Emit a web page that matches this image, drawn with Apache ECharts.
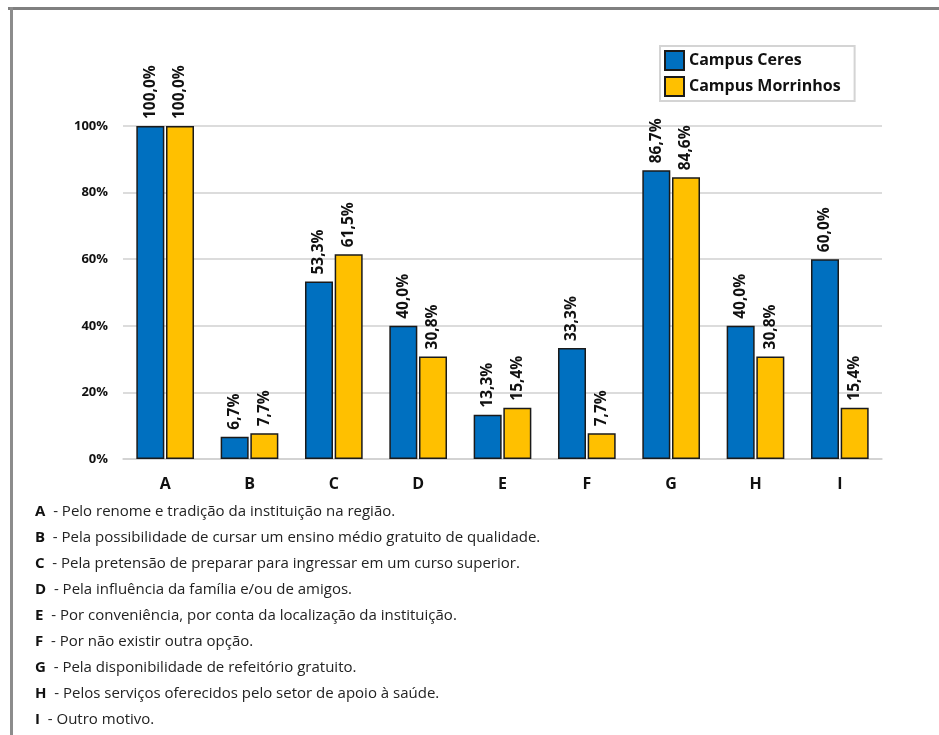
<!DOCTYPE html>
<html>
<head>
<meta charset="utf-8">
<script src="https://cdn.jsdelivr.net/npm/echarts@6/dist/echarts.min.js"></script>
<style>
  html, body { margin: 0; padding: 0; background: #fff; }
  #chart { width: 939px; height: 735px; }
</style>
</head>
<body>
<div id="chart"></div>
<script>
// Motivos de escolha da instituição, por campus (%)
const categories = ['A', 'B', 'C', 'D', 'E', 'F', 'G', 'H', 'I'];
const ceres = [100, 6.7, 53.3, 40, 13.3, 33.3, 86.7, 40, 60];
const morrinhos = [100, 7.7, 61.5, 30.8, 15.4, 7.7, 84.6, 30.8, 15.4];
const seriesNames = ['Campus Ceres', 'Campus Morrinhos'];
const yTicks = [0, 20, 40, 60, 80, 100];

const legendKey = [
  ['A', 'Pelo renome e tradição da instituição na região.'],
  ['B', 'Pela possibilidade de cursar um ensino médio gratuito de qualidade.'],
  ['C', 'Pela pretensão de preparar para ingressar em um curso superior.'],
  ['D', 'Pela influência da família e/ou de amigos.'],
  ['E', 'Por conveniência, por conta da localização da instituição.'],
  ['F', 'Por não existir outra opção.'],
  ['G', 'Pela disponibilidade de refeitório gratuito.'],
  ['H', 'Pelos serviços oferecidos pelo setor de apoio à saúde.'],
  ['I', 'Outro motivo.']
];

const FONT = '"Open Sans", "Noto Sans", sans-serif';
const chart = echarts.init(document.getElementById('chart'));

const fmt = v => v.toFixed(1).replace('.', ',') + '%';

const barLabel = {
  show: true,
  position: 'top',
  rotate: 90,
  align: 'left',
  verticalAlign: 'middle',
  distance: 7,
  fontFamily: FONT,
  fontWeight: 'bold',
  fontSize: 15.5,
  color: '#111',
  formatter: p => fmt(p.value)
};

const keyGraphics = legendKey.map((row, i) => ({
  type: 'text',
  left: 35,
  top: 504 + i * 26,
  style: {
    text: '{b|' + row[0] + '}  - ' + row[1],
    fontFamily: FONT,
    fontSize: 15,
    fill: '#222',
    rich: {
      b: { fontFamily: FONT, fontSize: 15, fontWeight: 'bold', fill: '#111' }
    }
  }
}));

chart.setOption({
  animation: false,
  backgroundColor: '#fff',
  grid: { left: 123, right: 57, top: 126, height: 333, containLabel: false },
  legend: {
    data: seriesNames,
    orient: 'vertical',
    left: 660,
    top: 46,
    padding: [4, 14, 4, 4],
    itemGap: 5,
    itemWidth: 19,
    itemHeight: 19,
    borderColor: '#d4d4d4',
    borderWidth: 2,
    textStyle: { fontFamily: FONT, fontSize: 16, fontWeight: 'bold', color: '#111' },
    icon: 'rect'
  },
  xAxis: {
    type: 'category',
    data: categories,
    axisLine: { show: true, lineStyle: { color: '#d0d0d0', width: 1.5 } },
    axisTick: { show: false },
    axisLabel: { fontFamily: FONT, fontSize: 16, fontWeight: 'bold', color: '#111', margin: 17 }
  },
  yAxis: {
    type: 'value',
    min: yTicks[0],
    max: yTicks[yTicks.length - 1],
    interval: 20,
    axisLine: { show: false },
    axisTick: { show: false },
    splitLine: { lineStyle: { color: '#d0d0d0', width: 1.5 } },
    axisLabel: { fontFamily: FONT, fontSize: 13, fontWeight: 'bold', color: '#111', margin: 15, formatter: '{value}%' }
  },
  series: [
    {
      name: seriesNames[0],
      type: 'bar',
      data: ceres,
      barWidth: 28,
      barGap: '6%',
      itemStyle: { color: '#0070C0', borderColor: '#1a1a1a', borderWidth: 1.5 },
      label: barLabel
    },
    {
      name: seriesNames[1],
      type: 'bar',
      data: morrinhos,
      barWidth: 28,
      itemStyle: { color: '#FFC000', borderColor: '#1a1a1a', borderWidth: 1.5 },
      label: barLabel
    }
  ],
  graphic: [
    // page frame
    { type: 'rect', shape: { x: 8, y: 7, width: 931, height: 3 }, style: { fill: '#808080' } },
    { type: 'rect', shape: { x: 10, y: 7, width: 3, height: 728 }, style: { fill: '#8c8c8c' } }
  ].concat(keyGraphics)
});
</script>
</body>
</html>
